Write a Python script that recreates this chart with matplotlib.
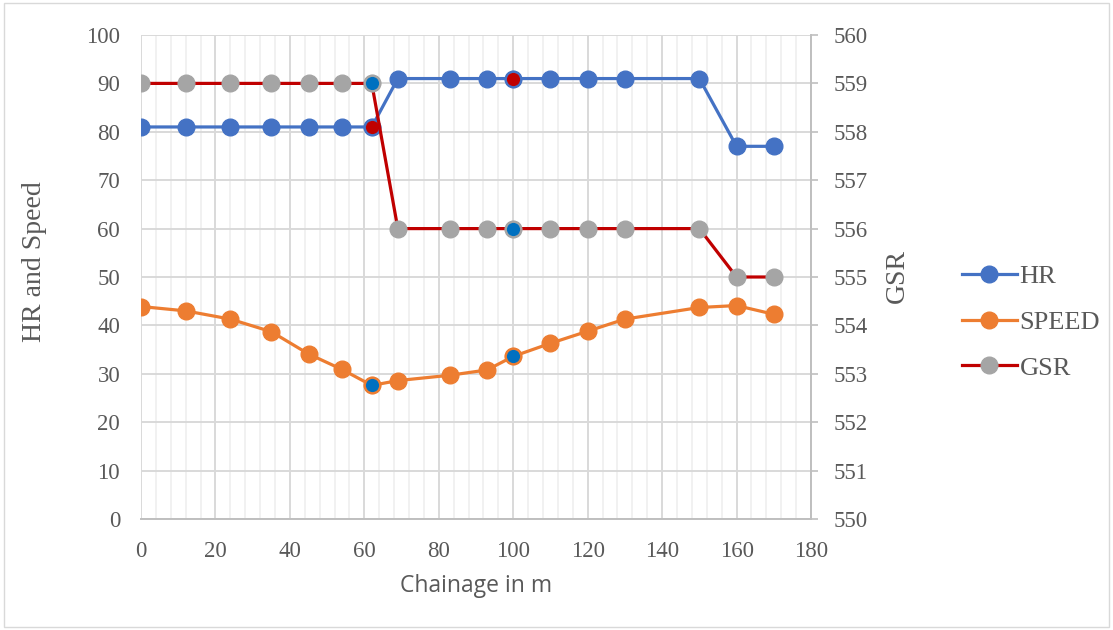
import matplotlib
matplotlib.use("Agg")
import matplotlib.pyplot as plt
from matplotlib.lines import Line2D
from matplotlib.ticker import MultipleLocator

chainage = [0, 12, 24, 35, 45, 54, 62, 69, 83, 93, 100, 110, 120, 130, 150, 160, 170]
hr = [81, 81, 81, 81, 81, 81, 81, 91, 91, 91, 91, 91, 91, 91, 91, 77, 77]
speed = [43.9, 43.0, 41.3, 38.7, 34.1, 30.9, 27.6, 28.6, 29.7, 30.8, 33.6, 36.3, 38.8, 41.3, 43.7, 44.1, 42.3]
gsr = [559, 559, 559, 559, 559, 559, 559, 556, 556, 556, 556, 556, 556, 556, 556, 555, 555]
highlight_idx = [6, 10]  # points drawn with contrasting marker colours

C_HR = "#4472C4"
C_SP = "#ED7D31"
C_GSR = "#C00000"
C_GSRM = "#A5A5A5"
C_HL = "#0070C0"
TXT = "#595959"
GRID = "#D9D9D9"
MINOR = "#EDEDED"

serif = ["Liberation Serif", "DejaVu Serif"]

fig = plt.figure(figsize=(11.13, 6.3), dpi=100)
fig.patches.append(plt.Rectangle((0.004, 0.004), 0.992, 0.992, transform=fig.transFigure,
                                 fill=False, edgecolor="#D9D9D9", linewidth=1.0))
ax = fig.add_axes([141 / 1113, 111 / 630, 670 / 1113, 484 / 630])
ax2 = ax.twinx()

ax.set_xlim(0, 180)
ax.set_ylim(0, 100)
ax2.set_ylim(550, 560)

ax.xaxis.set_major_locator(MultipleLocator(20))
ax.xaxis.set_minor_locator(MultipleLocator(4))
ax.yaxis.set_major_locator(MultipleLocator(10))
ax2.yaxis.set_major_locator(MultipleLocator(1))

ax.grid(which="major", axis="both", color=GRID, linewidth=1.4, zorder=0)
ax.grid(which="minor", axis="x", color=MINOR, linewidth=1.1, zorder=0)
ax.set_axisbelow(True)

for s in ["top", "left", "right", "bottom"]:
    ax.spines[s].set_visible(False)
for s in ["top", "left", "bottom"]:
    ax2.spines[s].set_visible(False)
ax2.spines["right"].set_color("#BFBFBF")
ax2.spines["right"].set_linewidth(1.4)
ax.spines["bottom"].set_visible(True)
ax.spines["bottom"].set_color("#BFBFBF")
ax.spines["bottom"].set_linewidth(1.4)

ax.tick_params(axis="y", which="both", length=0, labelsize=16.5, labelcolor=TXT, pad=15)
ax.tick_params(axis="x", which="both", length=0, labelsize=16.5, labelcolor=TXT, pad=16)
ax2.tick_params(axis="y", length=5, width=1.2, color="#BFBFBF", labelsize=16.5, labelcolor=TXT, pad=11)
for lab in ax.get_xticklabels() + ax.get_yticklabels() + ax2.get_yticklabels():
    lab.set_fontfamily(serif)

lw = 2.3
ms = 12
ax.plot(chainage, hr, color=C_HR, lw=lw, marker="o", ms=ms, mfc=C_HR, mec=C_HR, zorder=3)
ax.plot(chainage, speed, color=C_SP, lw=lw, marker="o", ms=ms, mfc=C_SP, mec=C_SP, zorder=3)
ax2.plot(chainage, gsr, color=C_GSR, lw=lw, marker="o", ms=ms, mfc=C_GSRM, mec=C_GSRM, zorder=3)

hx = [chainage[i] for i in highlight_idx]
ax.plot(hx, [hr[i] for i in highlight_idx], ls="none", marker="o", ms=ms - 1, mfc=C_GSR, mec=C_HR, mew=1.5, zorder=5)
ax.plot(hx, [speed[i] for i in highlight_idx], ls="none", marker="o", ms=ms - 1, mfc=C_HL, mec=C_SP, mew=1.5, zorder=5)
ax2.plot(hx, [gsr[i] for i in highlight_idx], ls="none", marker="o", ms=ms - 1, mfc=C_HL, mec=C_GSRM, mew=1.5, zorder=5)

ax.set_ylabel("HR and Speed", fontsize=20, color=TXT, family=serif)
ax.yaxis.set_label_coords((47 - 141) / 670, (519 - 262) / 484)
ax2.set_ylabel("GSR", fontsize=20, color=TXT, family=serif)
ax2.yaxis.set_label_coords((885 - 141) / 670, (519 - 276) / 484)
ax.set_xlabel("Chainage in m", fontsize=16.5, color=TXT, family=["Open Sans", "DejaVu Sans"])
ax.xaxis.set_label_coords((476 - 141) / 670, -(574 - 519) / 484)

handles = [
    Line2D([], [], color=C_HR, lw=lw, marker="o", ms=ms, mfc=C_HR, mec=C_HR),
    Line2D([], [], color=C_SP, lw=lw, marker="o", ms=ms, mfc=C_SP, mec=C_SP),
    Line2D([], [], color=C_GSR, lw=lw, marker="o", ms=ms, mfc=C_GSRM, mec=C_GSRM),
]
leg = fig.legend(handles, ["HR", "SPEED", "GSR"], loc="center left",
                 bbox_to_anchor=(951 / 1113, 1 - 322 / 630), frameon=False,
                 prop={"family": serif, "size": 19}, labelcolor=TXT,
                 handlelength=2.1, handletextpad=0.1, labelspacing=0.85, borderaxespad=0)

fig.savefig("out.png", dpi=100)
